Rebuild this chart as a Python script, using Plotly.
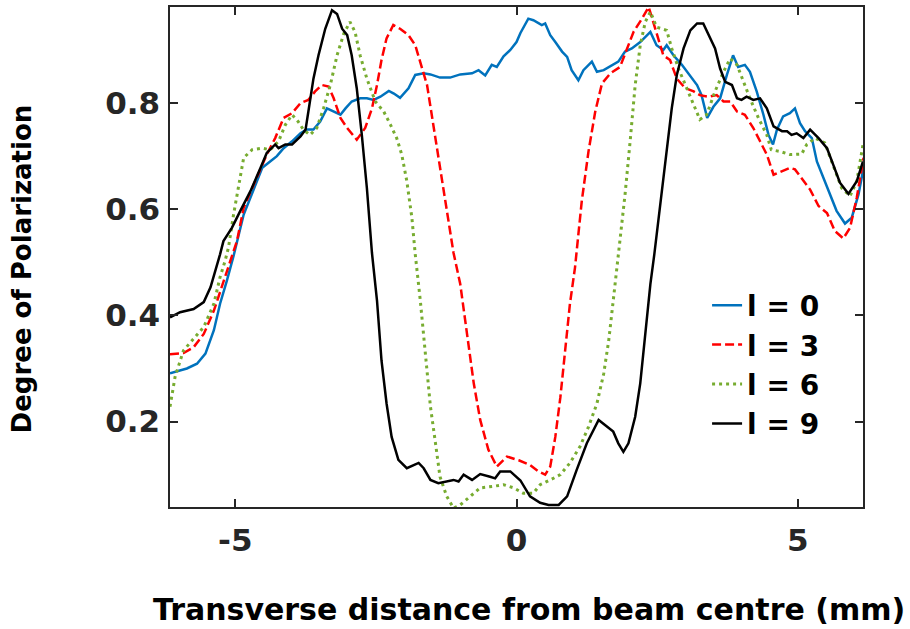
import plotly.graph_objects as go

# ---- data ----
x_l0 = [-6.16, -5.86, -5.68, -5.53, -5.38, -5.27, -5.15, -5.03, -4.85, -4.67, -4.52, -4.38, -4.26, -4.14, -3.99,
        -3.84, -3.73, -3.61, -3.49, -3.37, -3.25, -3.13, -3.04, -2.93, -2.78, -2.66, -2.54, -2.42, -2.27, -2.18,
        -2.07, -1.92, -1.80, -1.65, -1.53, -1.36, -1.18, -1.00, -0.79, -0.675, -0.556, -0.44, -0.35, -0.23, -0.11,
        0.0, 0.07, 0.21, 0.30, 0.45, 0.51, 0.60, 0.69, 0.81, 0.90, 0.98, 1.10, 1.19, 1.34, 1.43,
        1.55, 1.70, 1.81, 1.93, 2.05, 2.20, 2.32, 2.38, 2.49, 2.61, 2.67, 2.79, 2.94, 3.06, 3.21,
        3.29, 3.39, 3.50, 3.62, 3.74, 3.85, 3.94, 4.06, 4.15, 4.27, 4.39, 4.48, 4.56, 4.63, 4.74,
        4.86, 4.95, 5.04, 5.13, 5.25, 5.34, 5.46, 5.58, 5.69, 5.84, 5.96, 6.08, 6.17]
y_l0 = [0.291, 0.300, 0.309, 0.328, 0.372, 0.422, 0.465, 0.512, 0.590, 0.640, 0.678, 0.690, 0.700, 0.715, 0.728,
        0.743, 0.750, 0.750, 0.765, 0.790, 0.784, 0.778, 0.790, 0.803, 0.809, 0.809, 0.806, 0.812, 0.823, 0.818,
        0.810, 0.828, 0.853, 0.856, 0.854, 0.848, 0.848, 0.854, 0.856, 0.862, 0.852, 0.872, 0.868, 0.888, 0.900,
        0.915, 0.932, 0.959, 0.956, 0.947, 0.950, 0.928, 0.915, 0.897, 0.887, 0.862, 0.843, 0.862, 0.878, 0.859,
        0.862, 0.872, 0.878, 0.897, 0.903, 0.915, 0.928, 0.934, 0.909, 0.900, 0.909, 0.890, 0.872, 0.856, 0.834,
        0.815, 0.772, 0.793, 0.809, 0.853, 0.890, 0.868, 0.872, 0.859, 0.822, 0.778, 0.740, 0.722, 0.750, 0.775,
        0.781, 0.790, 0.762, 0.747, 0.734, 0.690, 0.659, 0.628, 0.597, 0.573, 0.584, 0.628, 0.678]

x_l3 = [-6.16, -5.92, -5.74, -5.56, -5.38, -5.24, -5.12, -5.03, -4.97, -4.85, -4.67, -4.56, -4.44, -4.29, -4.14,
        -3.99, -3.84, -3.70, -3.58, -3.46, -3.34, -3.25, -3.13, -3.01, -2.84, -2.69, -2.57, -2.48, -2.40, -2.31,
        -2.19, -2.07, -1.92, -1.80, -1.71, -1.59, -1.47, -1.36, -1.24, -1.12, -1.00, -0.88, -0.76, -0.645, -0.50,
        -0.35, -0.17, 0.04, 0.24, 0.39, 0.51, 0.60, 0.69, 0.78, 0.87, 0.95, 1.04, 1.10, 1.16, 1.28,
        1.40, 1.52, 1.67, 1.84, 1.96, 2.08, 2.23, 2.35, 2.43, 2.52, 2.61, 2.73, 2.85, 3.00, 3.15,
        3.26, 3.41, 3.56, 3.68, 3.80, 3.92, 4.06, 4.21, 4.33, 4.45, 4.57, 4.72, 4.86, 4.95, 5.07,
        5.22, 5.37, 5.52, 5.66, 5.81, 5.93, 6.05, 6.17]
y_l3 = [0.327, 0.329, 0.340, 0.365, 0.409, 0.453, 0.490, 0.522, 0.540, 0.603, 0.647, 0.672, 0.703, 0.734, 0.772,
        0.781, 0.800, 0.806, 0.822, 0.834, 0.831, 0.809, 0.772, 0.753, 0.731, 0.753, 0.790, 0.834, 0.881, 0.922,
        0.947, 0.940, 0.928, 0.909, 0.878, 0.834, 0.753, 0.678, 0.603, 0.518, 0.459, 0.365, 0.272, 0.203, 0.147,
        0.115, 0.134, 0.127, 0.118, 0.106, 0.100, 0.115, 0.171, 0.246, 0.334, 0.422, 0.490, 0.560, 0.615, 0.709,
        0.784, 0.837, 0.856, 0.868, 0.903, 0.934, 0.959, 0.981, 0.953, 0.922, 0.890, 0.881, 0.846, 0.828, 0.822,
        0.815, 0.812, 0.815, 0.803, 0.803, 0.784, 0.778, 0.753, 0.728, 0.703, 0.665, 0.672, 0.678, 0.675, 0.659,
        0.637, 0.606, 0.593, 0.559, 0.545, 0.565, 0.622, 0.697]

x_l6 = [-6.16, -6.07, -5.92, -5.74, -5.56, -5.38, -5.27, -5.18, -5.12, -5.03, -4.94, -4.85, -4.70, -4.52, -4.38,
        -4.23, -4.11, -3.99, -3.88, -3.79, -3.67, -3.55, -3.43, -3.31, -3.19, -3.07, -2.96, -2.87, -2.78, -2.66,
        -2.51, -2.36, -2.24, -2.13, -2.04, -1.95, -1.86, -1.80, -1.71, -1.62, -1.53, -1.44, -1.36, -1.24, -1.12,
        -1.00, -0.82, -0.645, -0.41, -0.23, -0.05, 0.12, 0.30, 0.42, 0.60, 0.78, 0.95, 1.13, 1.28, 1.43,
        1.55, 1.64, 1.72, 1.81, 1.93, 2.02, 2.11, 2.20, 2.29, 2.38, 2.49, 2.67, 2.76, 2.88, 3.00,
        3.12, 3.26, 3.38, 3.53, 3.68, 3.80, 3.92, 4.03, 4.15, 4.30, 4.45, 4.53, 4.68, 4.86, 5.07,
        5.16, 5.31, 5.48, 5.63, 5.78, 5.93, 6.05, 6.17]
y_l6 = [0.228, 0.284, 0.334, 0.356, 0.378, 0.422, 0.472, 0.503, 0.528, 0.590, 0.640, 0.697, 0.712, 0.715, 0.712,
        0.728, 0.759, 0.778, 0.765, 0.750, 0.740, 0.753, 0.790, 0.834, 0.890, 0.931, 0.953, 0.934, 0.890, 0.846,
        0.803, 0.784, 0.759, 0.734, 0.703, 0.653, 0.584, 0.515, 0.428, 0.334, 0.228, 0.159, 0.096, 0.059, 0.037,
        0.043, 0.059, 0.075, 0.078, 0.081, 0.075, 0.065, 0.065, 0.081, 0.090, 0.100, 0.122, 0.153, 0.190, 0.234,
        0.290, 0.353, 0.428, 0.512, 0.628, 0.728, 0.834, 0.909, 0.953, 0.972, 0.943, 0.937, 0.903, 0.865, 0.834,
        0.803, 0.769, 0.778, 0.822, 0.859, 0.884, 0.872, 0.840, 0.809, 0.772, 0.740, 0.712, 0.709, 0.703, 0.704,
        0.722, 0.734, 0.725, 0.684, 0.640, 0.625, 0.653, 0.728]

x_l9 = [-6.16, -5.98, -5.74, -5.56, -5.44, -5.35, -5.27, -5.21, -5.06, -4.91, -4.73, -4.55, -4.44, -4.29, -4.23,
        -4.11, -3.99, -3.84, -3.75, -3.70, -3.61, -3.52, -3.40, -3.28, -3.19, -3.10, -3.01, -2.93, -2.84, -2.75,
        -2.66, -2.57, -2.48, -2.40, -2.31, -2.22, -2.10, -1.95, -1.83, -1.74, -1.65, -1.53, -1.39, -1.24, -1.12,
        -1.03, -0.94, -0.79, -0.645, -0.47, -0.38, -0.29, -0.11, 0.07, 0.24, 0.42, 0.57, 0.75, 0.90, 1.07,
        1.25, 1.46, 1.61, 1.72, 1.81, 1.90, 1.99, 2.11, 2.20, 2.29, 2.38, 2.45, 2.55, 2.67, 2.76,
        2.85, 2.97, 3.09, 3.21, 3.32, 3.44, 3.53, 3.62, 3.71, 3.83, 3.92, 4.00, 4.09, 4.21, 4.33,
        4.45, 4.57, 4.72, 4.81, 4.89, 4.98, 5.10, 5.22, 5.37, 5.52, 5.63, 5.75, 5.90, 6.05, 6.16]
y_l9 = [0.396, 0.406, 0.412, 0.425, 0.453, 0.484, 0.515, 0.540, 0.565, 0.597, 0.634, 0.678, 0.706, 0.722, 0.715,
        0.722, 0.722, 0.737, 0.750, 0.784, 0.846, 0.890, 0.940, 0.975, 0.968, 0.940, 0.928, 0.890, 0.828, 0.740,
        0.640, 0.518, 0.428, 0.315, 0.234, 0.171, 0.128, 0.112, 0.118, 0.122, 0.112, 0.090, 0.084, 0.087, 0.090,
        0.087, 0.100, 0.090, 0.101, 0.096, 0.093, 0.106, 0.106, 0.089, 0.059, 0.047, 0.043, 0.043, 0.059, 0.109,
        0.159, 0.203, 0.190, 0.181, 0.159, 0.143, 0.159, 0.209, 0.272, 0.365, 0.459, 0.515, 0.603, 0.709, 0.790,
        0.853, 0.903, 0.937, 0.950, 0.950, 0.922, 0.903, 0.865, 0.840, 0.834, 0.809, 0.806, 0.812, 0.806, 0.809,
        0.790, 0.756, 0.747, 0.747, 0.740, 0.743, 0.734, 0.750, 0.734, 0.715, 0.684, 0.650, 0.629, 0.653, 0.690]

series_names = ["l = 0", "l = 3", "l = 6", "l = 9"]
x_ticks = [-5, 0, 5]
y_ticks = [0.2, 0.4, 0.6, 0.8]
y_tick_text = ["0.2", "0.4", "0.6", "0.8"]

for xs, ys in [(x_l0, y_l0), (x_l3, y_l3), (x_l6, y_l6), (x_l9, y_l9)]:
    assert len(xs) == len(ys), (len(xs), len(ys))

FONT = "DejaVu Sans"
AXC = "#262626"

fig = go.Figure()
styles = [
    dict(color="#0072BD", width=2.5, dash="solid"),
    dict(color="#FF0000", width=2.5, dash="9px,4px"),
    dict(color="#77AC30", width=3, dash="3px,4px"),
    dict(color="#000000", width=2.5, dash="solid"),
]
for (xs, ys), name, st in zip([(x_l0, y_l0), (x_l3, y_l3), (x_l6, y_l6), (x_l9, y_l9)], series_names, styles):
    fig.add_trace(go.Scatter(x=xs, y=ys, mode="lines", name=name, line=st))

axis_common = dict(
    showline=True, linecolor=AXC, linewidth=1.5, mirror="ticks",
    ticks="inside", ticklen=8, tickwidth=1.5, tickcolor=AXC,
    showgrid=False, zeroline=False,
    tickfont=dict(family=FONT, size=31, color=AXC, weight="bold"),
)
fig.update_xaxes(range=[-6.16, 6.16], tickvals=x_ticks, ticktext=[str(v) for v in x_ticks],
                 ticklabelstandoff=5, **axis_common)
fig.update_yaxes(range=[0.039, 0.981], tickvals=y_ticks, ticktext=y_tick_text, ticklabelstandoff=2, **axis_common)

fig.update_layout(
    width=910, height=629,
    margin=dict(l=170, r=47, t=5, b=122),
    paper_bgcolor="white", plot_bgcolor="white",
    showlegend=True,
    legend=dict(
        x=0.775, y=0.453, xanchor="left", yanchor="top",
        bgcolor="rgba(0,0,0,0)", borderwidth=0,
        font=dict(family=FONT, size=28, color="black", weight="bold"),
        tracegroupgap=0,
    ),
    annotations=[
        dict(text="Transverse distance from beam centre (mm)", xref="paper", yref="paper",
             x=0.518, y=-0.205, xanchor="center", yanchor="middle", showarrow=False,
             font=dict(family=FONT, size=30, color="black", weight="bold")),
        dict(text="Degree of Polarization", xref="paper", yref="paper", textangle=-90,
             x=-0.213, y=0.476, xanchor="center", yanchor="middle", showarrow=False,
             font=dict(family=FONT, size=26, color="black", weight="bold")),
    ],
)

fig.write_html("out.html")
